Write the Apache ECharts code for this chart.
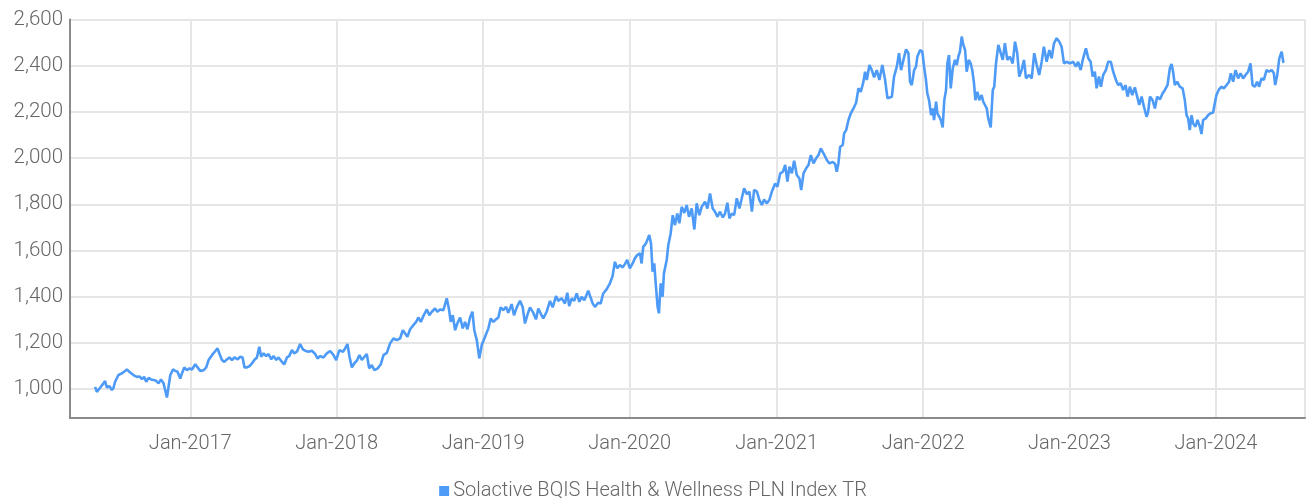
<!DOCTYPE html>
<html>
<head>
<meta charset="utf-8">
<script src="https://cdn.jsdelivr.net/npm/echarts@6/dist/echarts.min.js"></script>
<style>
html,body{margin:0;padding:0;background:#fff;}
#chart{width:1306px;height:500px;}
</style>
</head>
<body>
<div id="chart"></div>
<script>
const seriesName = 'Solactive BQIS Health & Wellness PLN Index TR';
// dates as decimal years
const dateYears = [
2016.352,2016.364,2016.368,2016.391,2016.409,2016.420,2016.432,2016.450,2016.466,2016.477,
2016.488,2016.511,2016.534,2016.568,2016.591,2016.613,2016.636,2016.654,2016.671,2016.686,
2016.700,2016.716,2016.732,2016.750,2016.768,2016.784,2016.800,2016.818,2016.832,2016.841,
2016.852,2016.864,2016.882,2016.898,2016.913,2016.932,2016.943,2016.959,2016.977,2016.995,
2017.012,2017.034,2017.050,2017.068,2017.091,2017.109,2017.125,2017.148,2017.171,2017.186,
2017.200,2017.216,2017.232,2017.250,2017.268,2017.284,2017.302,2017.323,2017.341,2017.357,
2017.370,2017.387,2017.405,2017.421,2017.437,2017.455,2017.471,2017.484,2017.500,2017.518,
2017.534,2017.553,2017.568,2017.587,2017.602,2017.626,2017.641,2017.660,2017.675,2017.694,
2017.709,2017.728,2017.750,2017.769,2017.784,2017.807,2017.830,2017.853,2017.868,2017.887,
2017.909,2017.932,2017.955,2017.978,2017.996,
2018.018,2018.042,2018.057,2018.073,2018.087,2018.103,2018.119,2018.137,2018.155,2018.171,
2018.189,2018.205,2018.221,2018.239,2018.257,2018.280,2018.301,2018.319,2018.342,2018.364,
2018.387,2018.410,2018.432,2018.451,2018.467,2018.482,2018.501,2018.523,2018.542,2018.557,
2018.574,2018.591,2018.615,2018.632,2018.649,2018.671,2018.687,2018.705,2018.728,2018.751,
2018.767,2018.778,2018.792,2018.808,2018.823,2018.842,2018.860,2018.876,2018.892,2018.910,
2018.926,2018.939,2018.956,2018.973,2018.990,
2019.012,2019.035,2019.051,2019.069,2019.087,2019.103,2019.119,2019.137,2019.156,2019.171,
2019.194,2019.210,2019.229,2019.251,2019.269,2019.285,2019.301,2019.319,2019.342,2019.360,
2019.376,2019.394,2019.410,2019.433,2019.456,2019.474,2019.497,2019.512,2019.535,2019.558,
2019.574,2019.587,2019.604,2019.621,2019.638,2019.656,2019.672,2019.690,2019.717,
2019.729,2019.747,2019.763,2019.785,2019.802,2019.819,2019.842,2019.865,2019.883,2019.899,
2019.915,2019.933,2019.952,2019.967,2019.983,
2020.001,2020.020,2020.035,2020.051,2020.070,2020.081,2020.092,2020.111,2020.133,2020.145,
2020.156,2020.167,2020.179,2020.190,2020.199,2020.211,2020.224,2020.233,2020.252,2020.263,
2020.279,2020.293,2020.308,2020.324,2020.338,2020.354,2020.372,2020.388,2020.404,2020.422,
2020.440,2020.456,2020.474,2020.490,2020.513,2020.529,2020.547,2020.565,2020.581,2020.597,
2020.615,2020.634,2020.649,2020.665,2020.679,2020.695,2020.711,2020.729,2020.747,2020.763,
2020.779,2020.797,2020.815,2020.832,2020.847,2020.866,2020.883,2020.900,2020.915,2020.934,
2020.952,2020.968,2020.990,
2021.006,2021.025,2021.043,2021.059,2021.074,2021.088,2021.104,2021.120,2021.138,2021.156,
2021.168,2021.184,2021.202,2021.218,2021.234,2021.252,2021.270,2021.286,2021.302,2021.320,
2021.343,2021.361,2021.384,2021.400,2021.411,2021.422,2021.434,2021.452,2021.461,2021.475,
2021.491,2021.507,2021.525,2021.543,2021.559,2021.575,2021.593,2021.604,2021.616,2021.634,
2021.650,2021.666,2021.684,2021.702,2021.722,2021.741,2021.757,2021.770,2021.787,2021.802,
2021.821,2021.836,2021.850,2021.866,2021.884,2021.900,2021.911,2021.923,2021.939,2021.952,
2021.961,2021.980,2021.995,
2022.007,2022.020,2022.029,2022.041,2022.055,2022.066,2022.075,2022.089,2022.098,2022.111,
2022.121,2022.134,2022.145,2022.157,2022.166,2022.177,2022.189,2022.203,2022.218,2022.230,
2022.241,2022.252,2022.264,2022.275,2022.287,2022.298,2022.312,2022.325,2022.336,2022.348,
2022.357,2022.371,2022.384,2022.400,2022.411,2022.423,2022.435,2022.445,2022.462,2022.476,
2022.486,2022.498,2022.514,2022.525,2022.544,2022.559,2022.575,2022.593,2022.612,2022.628,
2022.643,2022.657,2022.673,2022.689,2022.703,2022.725,2022.742,2022.759,2022.776,2022.793,
2022.810,2022.825,2022.844,2022.862,2022.878,2022.894,2022.912,2022.930,2022.946,2022.962,
2022.980,
2023.003,2023.025,2023.044,2023.059,2023.076,2023.093,2023.112,2023.128,2023.144,2023.158,
2023.173,2023.185,2023.201,2023.214,2023.230,2023.248,2023.264,2023.282,2023.298,2023.317,
2023.332,2023.349,2023.366,2023.383,2023.396,2023.412,2023.428,2023.446,2023.462,2023.476,
2023.492,2023.508,2023.526,2023.537,2023.549,2023.567,2023.583,2023.598,2023.617,2023.635,
2023.651,2023.669,2023.685,2023.697,2023.707,2023.719,2023.735,2023.753,2023.772,2023.787,
2023.799,2023.810,2023.821,2023.833,2023.844,2023.860,2023.874,2023.890,2023.901,2023.912,
2023.930,2023.946,2023.963,2023.980,2023.992,
2024.003,2024.021,2024.038,2024.053,2024.072,2024.089,2024.101,2024.117,2024.133,2024.151,
2024.167,2024.185,2024.201,2024.219,2024.235,2024.249,2024.265,2024.280,2024.294,2024.310,
2024.326,2024.344,2024.360,2024.379,2024.394,2024.403,2024.417,2024.431,2024.447,2024.458,
2024.462
];
const indexValues = [
1010,988,984,1010,1025,1035,1007,1013,996,1005,
1032,1061,1068,1085,1072,1061,1053,1055,1043,1053,
1032,1049,1042,1039,1036,1025,1042,1025,988,964,
1010,1061,1085,1079,1075,1046,1068,1094,1082,1090,
1085,1108,1094,1079,1082,1094,1126,1147,1165,1176,
1152,1126,1118,1129,1137,1126,1137,1129,1140,1137,
1094,1094,1100,1111,1126,1137,1183,1140,1155,1143,
1152,1129,1143,1126,1137,1118,1107,1137,1143,1169,
1155,1162,1195,1172,1166,1162,1166,1152,1133,1143,
1137,1155,1165,1147,1126,
1169,1162,1176,1195,1140,1094,1111,1123,1147,1126,
1140,1152,1090,1104,1082,1090,1108,1147,1157,1198,
1219,1212,1219,1255,1241,1226,1259,1277,1291,1310,
1291,1316,1345,1320,1335,1349,1335,1345,1342,1393,
1342,1291,1320,1255,1284,1310,1263,1291,1259,1310,
1335,1255,1212,1133,1191,
1226,1263,1306,1291,1302,1310,1354,1342,1356,1330,
1368,1320,1354,1382,1356,1284,1320,1354,1330,1302,
1349,1325,1306,1335,1382,1354,1403,1382,1393,1371,
1417,1359,1393,1382,1414,1378,1400,1385,1426,
1421,1371,1356,1374,1371,1414,1432,1458,1489,1551,
1523,1537,1527,1541,1559,
1523,1544,1566,1580,1588,1544,1616,1631,1667,1631,
1508,1544,1443,1356,1328,1458,1400,1501,1559,1624,
1674,1753,1710,1760,1718,1789,1763,1797,1746,1782,
1691,1804,1753,1789,1811,1782,1847,1782,1768,1746,
1768,1743,1760,1807,1739,1760,1753,1826,1782,1826,
1869,1844,1855,1768,1862,1855,1818,1797,1821,1804,
1821,1855,1890,
1876,1934,1941,1970,1898,1963,1934,1989,1927,1912,
1862,1934,1956,1970,2013,1977,1999,2013,2042,2021,
1992,1977,1984,1974,1941,1977,2049,2057,2107,2121,
2165,2194,2215,2240,2302,2287,2331,2374,2338,2403,
2381,2350,2381,2338,2403,2338,2259,2251,2266,2353,
2396,2454,2381,2425,2471,2454,2331,2316,2381,2396,
2439,2468,2461,
2396,2338,2280,2251,2186,2215,2165,2244,2194,2179,
2165,2133,2251,2295,2410,2446,2302,2389,2425,2403,
2439,2461,2526,2490,2468,2374,2425,2410,2381,2324,
2251,2287,2251,2273,2244,2251,2215,2172,2133,2295,
2309,2410,2490,2497,2425,2497,2425,2439,2410,2504,
2454,2353,2381,2425,2345,2360,2345,2454,2403,2360,
2417,2482,2417,2468,2432,2497,2519,2504,2482,2410,
2417,
2410,2417,2396,2417,2381,2432,2475,2432,2417,2353,
2374,2302,2353,2309,2360,2381,2417,2417,2374,2338,
2316,2324,2295,2316,2266,2309,2273,2306,2266,2230,
2266,2223,2179,2201,2266,2251,2215,2266,2254,2280,
2295,2316,2389,2407,2374,2316,2331,2309,2302,2251,
2186,2172,2121,2186,2150,2136,2165,2136,2104,2165,
2172,2186,2194,2196,2237,
2273,2298,2309,2302,2316,2331,2367,2331,2381,2345,
2367,2345,2360,2374,2410,2316,2309,2331,2309,2345,
2338,2381,2374,2381,2367,2316,2360,2432,2461,2417,
2413
];
const axisStartYear = 2016.181;
const axisEndYear = 2024.606;
const yMin = 875, yMax = 2600;

function toTime(t) {
  const y = Math.floor(t);
  const s = Date.UTC(y, 0, 1), e = Date.UTC(y + 1, 0, 1);
  return s + (t - y) * (e - s);
}
const seriesData = dateYears.map((t, i) => [toTime(t), indexValues[i]]);

const FONT = "Roboto, 'Noto Sans', sans-serif";
const chart = echarts.init(document.getElementById('chart'), null, {renderer: 'canvas'});
const YEAR = 365.25 * 24 * 3600 * 1000;
chart.setOption({
  useUTC: true,
  animation: false,
  backgroundColor: '#ffffff',
  grid: {left: 70, right: 1, top: 19.5, bottom: 82, containLabel: false},
  legend: {
    data: [seriesName],
    bottom: 'auto', top: 481, left: 'center',
    icon: 'rect', itemWidth: 10, itemHeight: 10, itemGap: 10,
    padding: 0,
    textStyle: {fontFamily: FONT, fontSize: 20, fontWeight: 300, color: '#666', padding: [0, 0, 0, -1]}
  },
  xAxis: {
    type: 'time',
    min: toTime(axisStartYear),
    max: toTime(axisEndYear),
    splitNumber: 8,
    minInterval: YEAR,
    maxInterval: YEAR,
    axisLine: {show: true, lineStyle: {color: '#8a8a8a', width: 2}},
    axisTick: {show: false},
    splitLine: {show: true, lineStyle: {color: '#e6e6e6', width: 2}},
    axisLabel: {
      margin: 16,
      fontFamily: FONT, fontSize: 20, fontWeight: 300, color: '#666',
      hideOverlap: false,
      formatter: function (v) { return 'Jan-' + new Date(v).getUTCFullYear(); }
    }
  },
  yAxis: {
    type: 'value',
    min: yMin, max: yMax,
    splitNumber: 8,
    axisLine: {show: true, lineStyle: {color: '#8a8a8a', width: 2}},
    axisTick: {show: false},
    splitLine: {show: true, lineStyle: {color: '#e6e6e6', width: 2}},
    axisLabel: {
      margin: 7,
      fontFamily: FONT, fontSize: 20.5, fontWeight: 300, color: '#666',
      formatter: function (v) { return v % 200 === 0 ? v.toLocaleString('en-US') : ''; }
    }
  },
  series: [{
    name: seriesName,
    type: 'line',
    data: seriesData,
    showSymbol: false,
    symbol: 'none',
    sampling: 'none',
    color: '#4d9bf6',
    lineStyle: {color: '#4d9bf6', width: 2.6},
    z: 3
  }]
});
</script>
</body>
</html>
